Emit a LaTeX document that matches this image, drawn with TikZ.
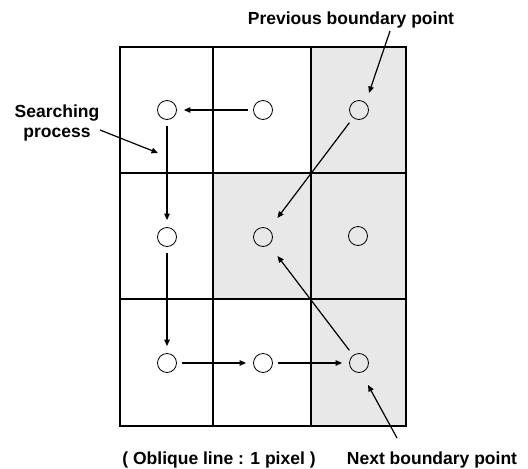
\documentclass[tikz,border=0pt]{standalone}
\usepackage{fontspec}
\setmainfont{Liberation Sans}
\usetikzlibrary{calc,positioning,arrows.meta}
\definecolor{cellgray}{RGB}{232,232,232}
\tikzset{
  gridline/.style={draw=black,line width=1.6pt},
  outerline/.style={draw=black,line width=2.2pt},
  pixel/.style={draw=black,circle,line width=0.8pt,minimum size=19pt,inner sep=0pt},
  arr/.style={draw=black,line width=1.2pt,-{Triangle[length=6.5pt,width=5.5pt]}},
  lbl/.style={font=\bfseries\fontsize{17.5}{20}\selectfont,align=center,inner sep=0pt},
}
\begin{document}
\begin{tikzpicture}[x=1pt,y=-1pt]
  \useasboundingbox (0,0) rectangle (528,469);
  % shaded pixels
  \fill[cellgray] (311,47) rectangle (406,426);
  \fill[cellgray] (213,173) rectangle (311,299);
  % grid
  \draw[gridline] (213,47) -- (213,426);
  \draw[gridline] (311,47) -- (311,426);
  \draw[gridline] (120,173) -- (406,173);
  \draw[gridline] (120,299) -- (406,299);
  \draw[outerline] (120,47) rectangle (406,426);
  % pixel centres
  \node[pixel] (c11) at (167,110) {};
  \node[pixel] (c12) at (263,110) {};
  \node[pixel] (c13) at (359,110) {};
  \node[pixel] (c21) at (167,237) {};
  \node[pixel] (c22) at (263,237) {};
  \node[pixel] (c23) at (358,236) {};
  \node[pixel] (c31) at (167,363) {};
  \node[pixel] (c32) at (263,363) {};
  \node[pixel] (c33) at (359,363) {};
  % searching path
  \draw[arr,shorten <=5pt,shorten >=7pt] (c12) -- (c11);
  \draw[arr,shorten <=6pt,shorten >=7pt] (c11) -- (c21);
  \draw[arr,shorten <=6pt,shorten >=7pt] (c21) -- (c31);
  \draw[arr,shorten <=5pt,shorten >=7pt] (c31) -- (c32);
  \draw[arr,shorten <=5pt,shorten >=7pt] (c32) -- (c33);
  % oblique moves
  \draw[arr,shorten <=6pt,shorten >=14pt] (c13) -- (c22);
  \draw[arr,shorten <=6pt,shorten >=14pt] (c33) -- (c22);
  % labels
  \node[lbl] (prev) at (351,20) {Previous boundary point};
  \node[lbl] (search) at (57,123) {Searching\\process};
  \node[lbl] (next) at (432,460) {Next boundary point};
  \node[lbl] (oblique) at (219,460) {( Oblique line : 1 pixel )};
  \coordinate (prevtail) at (390,31);
  \coordinate (prevtip) at (369,93);
  \coordinate (searchtail) at (100,130);
  \coordinate (searchtip) at (158,153);
  \coordinate (nexttail) at (397,438);
  \coordinate (nexttip) at (368,385);
  \draw[arr] (prevtail) -- (prevtip);
  \draw[arr] (searchtail) -- (searchtip);
  \draw[arr] (nexttail) -- (nexttip);
\end{tikzpicture}
\end{document}
